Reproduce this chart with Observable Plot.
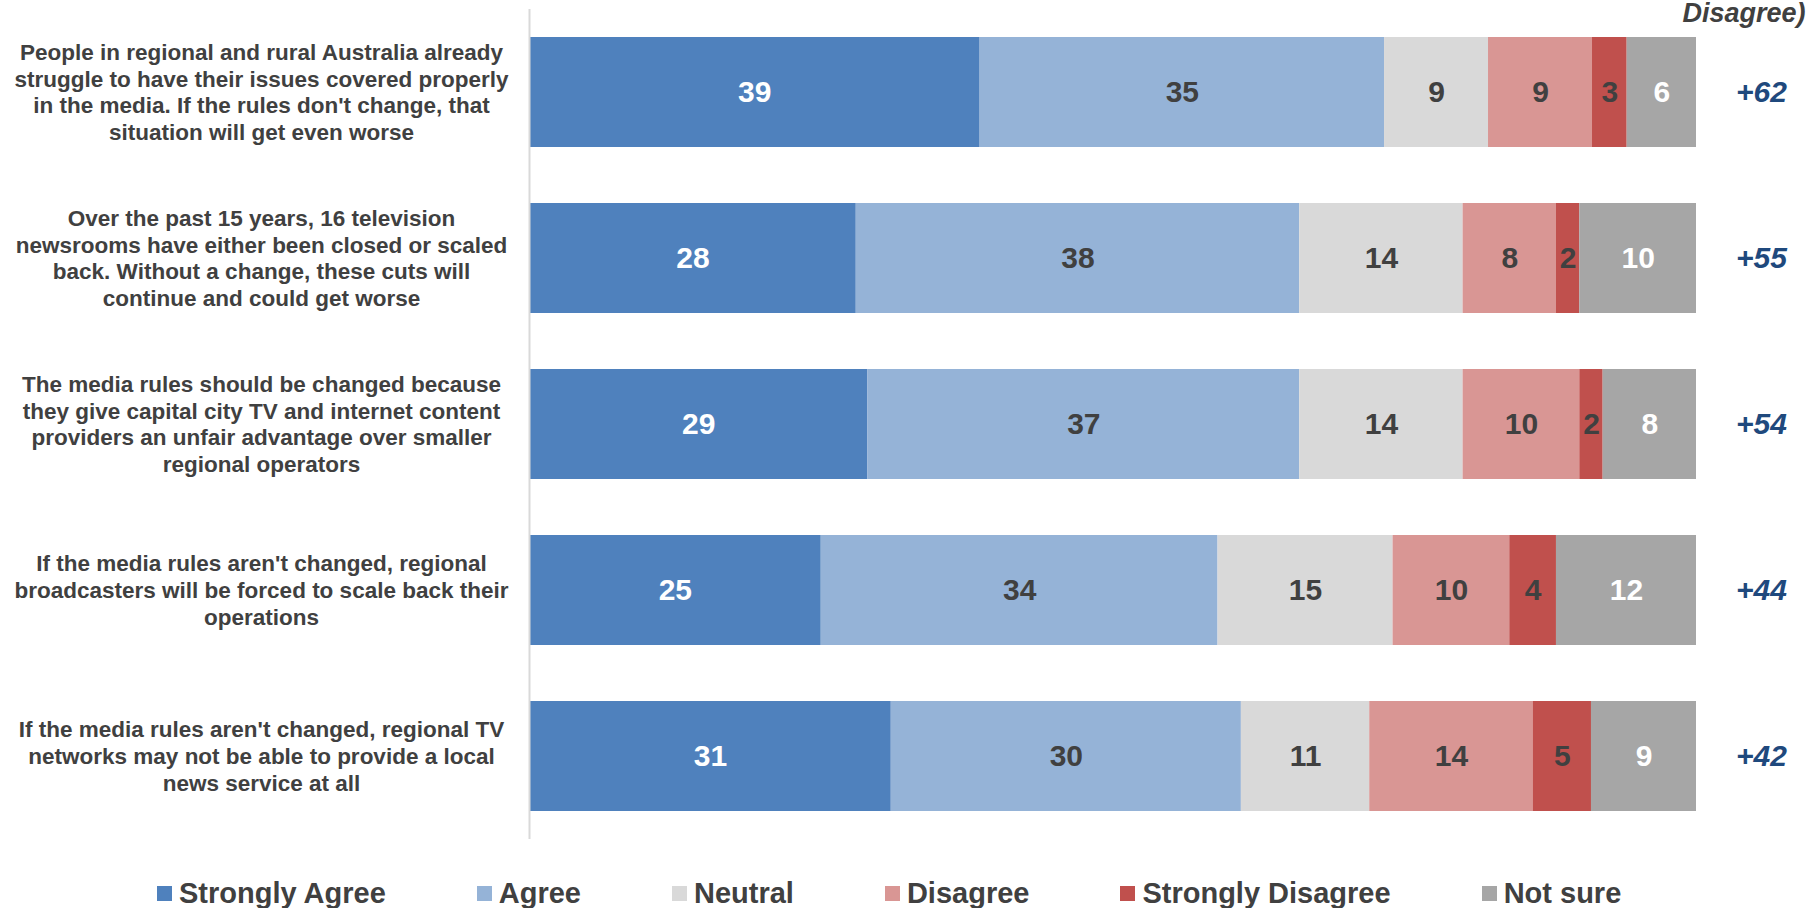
<!DOCTYPE html>
<html>
<head>
<meta charset="utf-8">
<script src="https://cdn.jsdelivr.net/npm/d3@7"></script>
<script src="https://cdn.jsdelivr.net/npm/@observablehq/plot@0.6"></script>
<style>
  html, body { margin: 0; padding: 0; background: white; overflow: hidden; }
  #chart svg { display: block; }
  .legend { display: flex; gap: 91px; padding-left: 157px; padding-top: 18px; height: 30px; align-items: center;
    font-family: "Liberation Sans", Arial, sans-serif; font-weight: bold; font-size: 29px; color: #404040; line-height: 30px; }
  .legend .item { display: flex; align-items: center; white-space: nowrap; }
  .legend .sw { width: 15px; height: 15px; margin-right: 7px; }
</style>
</head>
<body>
<div id="chart"></div>
<div class="legend" id="legend"></div>
<script>
const statements = [
  "People in regional and rural Australia already\nstruggle to have their issues covered properly\nin the media. If the rules don't change, that\nsituation will get even worse",
  "Over the past 15 years, 16 television\nnewsrooms have either been closed or scaled\nback. Without a change, these cuts will\ncontinue and could get worse",
  "The media rules should be changed because\nthey give capital city TV and internet content\nproviders an unfair advantage over smaller\nregional operators",
  "If the media rules aren't changed, regional\nbroadcasters will be forced to scale back their\noperations",
  "If the media rules aren't changed, regional TV\nnetworks may not be able to provide a local\nnews service at all"
];
const categories = ["Strongly Agree", "Agree", "Neutral", "Disagree", "Strongly Disagree", "Not sure"];
const stronglyAgree    = [39, 28, 29, 25, 31];
const agree            = [35, 38, 37, 34, 30];
const neutral          = [9, 14, 14, 15, 11];
const disagree         = [9, 8, 10, 10, 14];
const stronglyDisagree = [3, 2, 2, 4, 5];
const notSure          = [6, 10, 8, 12, 9];
const net              = [62, 55, 54, 44, 42];
const colors = ["#4f81bd", "#95b3d7", "#d9d9d9", "#d99694", "#c0504d", "#a6a6a6"];
const whiteLabelCats = ["Strongly Agree", "Not sure"];
const headerText = "Disagree)";

const series = [stronglyAgree, agree, neutral, disagree, stronglyDisagree, notSure];
const data = [];
statements.forEach((s, i) => {
  categories.forEach((c, j) => data.push({statement: s, category: c, value: series[j][i]}));
});
const netRows = statements.map((s, i) => ({statement: s, net: net[i]}));

const font = "'Liberation Sans', Arial, sans-serif";
const stackOpts = {x: "value", y: "statement", z: "category", order: categories, offset: "normalize"};

const chart = Plot.plot({
  width: 1807,
  height: 860,
  marginLeft: 529,
  marginRight: 111,
  marginTop: 9,
  marginBottom: 21,
  style: {fontFamily: font, background: "white", overflow: "visible"},
  x: {axis: null, domain: [0, 1]},
  y: {axis: null, domain: statements, paddingInner: 0.336, paddingOuter: 0.16},
  color: {domain: categories, range: colors},
  marks: [
    Plot.barX(data, Plot.stackX({...stackOpts, fill: "category"})),
    Plot.ruleX([0], {stroke: "#d9d9d9", strokeWidth: 2}),
    Plot.textX(data, Plot.stackX({...stackOpts,
      text: d => whiteLabelCats.includes(d.category) ? String(d.value) : null,
      fill: "white", fontSize: 30, fontWeight: "bold"})),
    Plot.textX(data, Plot.stackX({...stackOpts,
      text: d => whiteLabelCats.includes(d.category) ? null : String(d.value),
      fill: "#404040", fontSize: 30, fontWeight: "bold"})),
    Plot.text(statements, {y: d => d, text: d => d, frameAnchor: "left", dx: -268, dy: -1,
      textAnchor: "middle", lineAnchor: "middle", lineHeight: 1.18,
      fontSize: 22.5, fontWeight: "bold", fill: "#404040"}),
    Plot.text(netRows, {y: "statement", text: d => "+" + d.net, frameAnchor: "right", dx: 65,
      textAnchor: "middle", fontSize: 30, fontWeight: "bold", fontStyle: "italic", fill: "#1f497d"}),
    Plot.text([headerText], {text: d => d, frameAnchor: "top-right", dx: 109, dy: 12,
      textAnchor: "end", lineAnchor: "bottom", fontSize: 27, fontWeight: "bold", fontStyle: "italic", fill: "#404040"})
  ]
});
document.getElementById("chart").appendChild(chart);

const legend = document.getElementById("legend");
categories.forEach((c, i) => {
  const item = document.createElement("div");
  item.className = "item";
  const sw = document.createElement("span");
  sw.className = "sw";
  sw.style.background = colors[i];
  const label = document.createElement("span");
  label.textContent = c;
  item.appendChild(sw);
  item.appendChild(label);
  legend.appendChild(item);
});
</script>
</body>
</html>
